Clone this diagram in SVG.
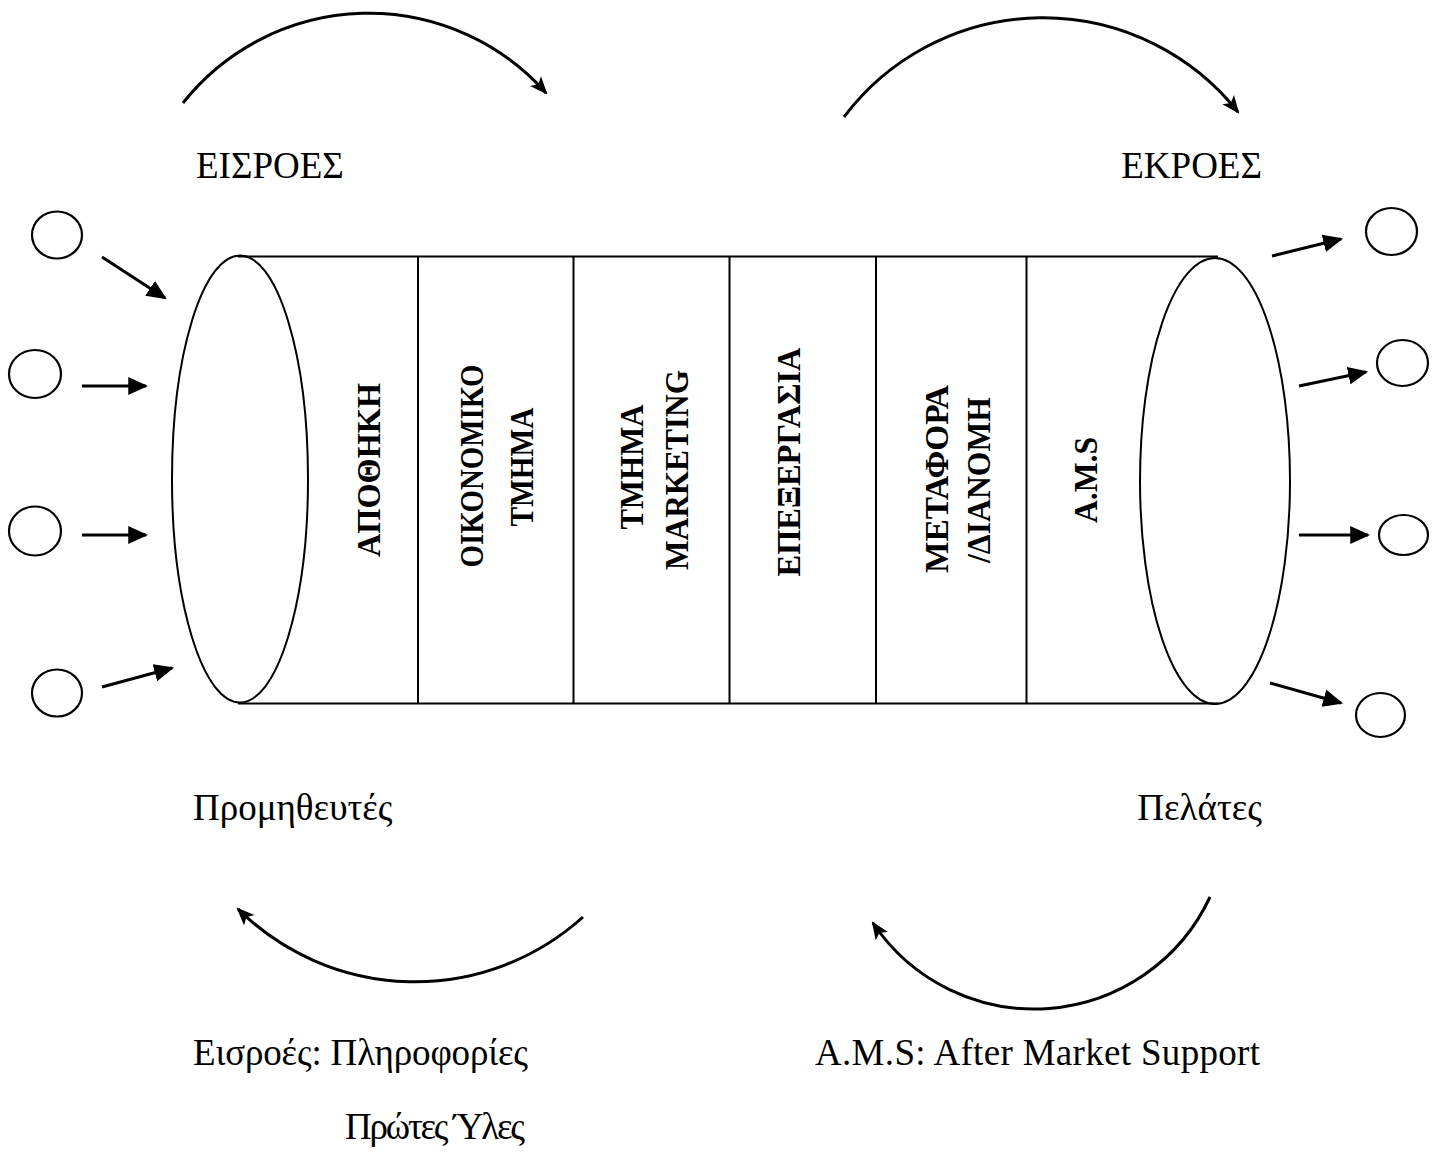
<svg xmlns="http://www.w3.org/2000/svg" width="1440" height="1162" viewBox="0 0 1440 1162">
  <style>
    .bg { fill: #ffffff; }
    .shape { fill: none; stroke: #000; stroke-width: 2; }
    .node { fill: none; stroke: #000; stroke-width: 2.2; }
    .flow { fill: none; stroke: #000; stroke-width: 3; }
    .curve { fill: none; stroke: #000; stroke-width: 3; }
    .label { font-family: "Liberation Serif", "Times New Roman", serif; font-size: 37px; fill: #000; }
    .dept { font-family: "Liberation Serif", "Times New Roman", serif; font-size: 34px; font-weight: bold; fill: #000; text-anchor: middle; }
  </style>
  <defs>
    <marker id="head" markerUnits="userSpaceOnUse" markerWidth="20" markerHeight="18" viewBox="0 0 18 16" refX="16" refY="8" orient="auto">
      <path d="M0,0 L18,8 L0,16 Z" fill="#000"/>
    </marker>
    <marker id="swoop" markerUnits="userSpaceOnUse" markerWidth="18" markerHeight="16" viewBox="0 0 17 14" refX="15" refY="7" orient="auto">
      <path d="M0,0 L17,7 L0,14 L4,7 Z" fill="#000"/>
    </marker>
  </defs>

  <rect class="bg" x="0" y="0" width="1440" height="1162"/>

  <!-- cylinder body -->
  <g id="cylinder">
    <line class="shape" x1="238" y1="256.5" x2="1218" y2="256.5"/>
    <line class="shape" x1="238" y1="703.5" x2="1218" y2="703.5"/>
    <ellipse class="shape" cx="240" cy="479" rx="68" ry="223.5"/>
    <ellipse class="shape" cx="1215" cy="481" rx="75" ry="223"/>
    <line class="shape" x1="418" y1="257" x2="418" y2="703"/>
    <line class="shape" x1="573.5" y1="257" x2="573.5" y2="703"/>
    <line class="shape" x1="729.5" y1="257" x2="729.5" y2="703"/>
    <line class="shape" x1="876" y1="257" x2="876" y2="703"/>
    <line class="shape" x1="1026.5" y1="257" x2="1026.5" y2="703"/>
  </g>

  <!-- department columns -->
  <g id="dept-apothiki">
    <text class="dept" transform="translate(380,470) rotate(-90)" textLength="174" lengthAdjust="spacingAndGlyphs">ΑΠΟΘΗΚΗ</text>
  </g>
  <g id="dept-oikonomiko">
    <text class="dept" transform="translate(483,466) rotate(-90)" textLength="203" lengthAdjust="spacingAndGlyphs">ΟΙΚΟΝΟΜΙΚΟ</text>
    <text class="dept" transform="translate(533,467) rotate(-90)" textLength="119" lengthAdjust="spacingAndGlyphs">ΤΜΗΜΑ</text>
  </g>
  <g id="dept-marketing">
    <text class="dept" transform="translate(643,467) rotate(-90)" textLength="125" lengthAdjust="spacingAndGlyphs">ΤΜΗΜΑ</text>
    <text class="dept" transform="translate(688,470) rotate(-90)" textLength="200" lengthAdjust="spacingAndGlyphs">MARKETING</text>
  </g>
  <g id="dept-epexergasia">
    <text class="dept" transform="translate(800,462) rotate(-90)" textLength="229" lengthAdjust="spacingAndGlyphs">ΕΠΕΞΕΡΓΑΣΙΑ</text>
  </g>
  <g id="dept-metafora">
    <text class="dept" transform="translate(948,479) rotate(-90)" textLength="188" lengthAdjust="spacingAndGlyphs">ΜΕΤΑΦΟΡΑ</text>
    <text class="dept" transform="translate(990,480) rotate(-90)" textLength="166" lengthAdjust="spacingAndGlyphs">/ΔΙΑΝΟΜΗ</text>
  </g>
  <g id="dept-ams">
    <text class="dept" transform="translate(1097,480) rotate(-90)" textLength="86" lengthAdjust="spacingAndGlyphs">A.M.S</text>
  </g>

  <!-- suppliers (inputs) -->
  <g id="in-1"><ellipse class="node" cx="57" cy="235" rx="25" ry="23.5"/></g>
  <g id="in-2"><ellipse class="node" cx="35" cy="374" rx="26" ry="24"/></g>
  <g id="in-3"><ellipse class="node" cx="35" cy="531" rx="26" ry="24.5"/></g>
  <g id="in-4"><ellipse class="node" cx="57" cy="693" rx="25" ry="23.5"/></g>

  <!-- customers (outputs) -->
  <g id="out-1"><ellipse class="node" cx="1391.5" cy="231.5" rx="25.5" ry="23.5"/></g>
  <g id="out-2"><ellipse class="node" cx="1402.5" cy="363" rx="25.5" ry="23"/></g>
  <g id="out-3"><ellipse class="node" cx="1403.5" cy="535" rx="24.5" ry="20"/></g>
  <g id="out-4"><ellipse class="node" cx="1380.5" cy="715" rx="24.5" ry="22"/></g>

  <!-- connectors -->
  <g id="connectors">
    <line class="flow" x1="102" y1="257" x2="165" y2="298" marker-end="url(#head)"/>
    <line class="flow" x1="82" y1="386" x2="146" y2="386" marker-end="url(#head)"/>
    <line class="flow" x1="82" y1="535" x2="146" y2="535" marker-end="url(#head)"/>
    <line class="flow" x1="102" y1="687" x2="172" y2="668" marker-end="url(#head)"/>

    <line class="flow" x1="1272" y1="256" x2="1341" y2="239" marker-end="url(#head)"/>
    <line class="flow" x1="1299" y1="386" x2="1366" y2="372" marker-end="url(#head)"/>
    <line class="flow" x1="1299" y1="535" x2="1368" y2="535" marker-end="url(#head)"/>
    <line class="flow" x1="1270" y1="683" x2="1341" y2="703" marker-end="url(#head)"/>

    <path class="curve" d="M183,103 A237,237 0 0 1 546,93" marker-end="url(#swoop)"/>
    <path class="curve" d="M844,117 A249,249 0 0 1 1238,112" marker-end="url(#swoop)"/>
    <path class="curve" d="M583,917 A251,251 0 0 1 238,909" marker-end="url(#swoop)"/>
    <path class="curve" d="M1210,897 A194,194 0 0 1 873,923" marker-end="url(#swoop)"/>
  </g>

  <!-- captions -->
  <g id="captions">
    <text class="label" x="196" y="178">ΕΙΣΡΟΕΣ</text>
    <text class="label" x="1262" y="178" text-anchor="end">ΕΚΡΟΕΣ</text>
    <text class="label" x="193" y="820">Προμηθευτές</text>
    <text class="label" x="1262" y="820" text-anchor="end">Πελάτες</text>
    <text class="label" x="193" y="1065" textLength="335" lengthAdjust="spacing">Εισροές: Πληροφορίες</text>
    <text class="label" x="815" y="1065" textLength="445" lengthAdjust="spacing">A.M.S: After Market Support</text>
    <text class="label" x="345" y="1139" textLength="180" lengthAdjust="spacing">Πρώτες Ύλες</text>
  </g>
</svg>
